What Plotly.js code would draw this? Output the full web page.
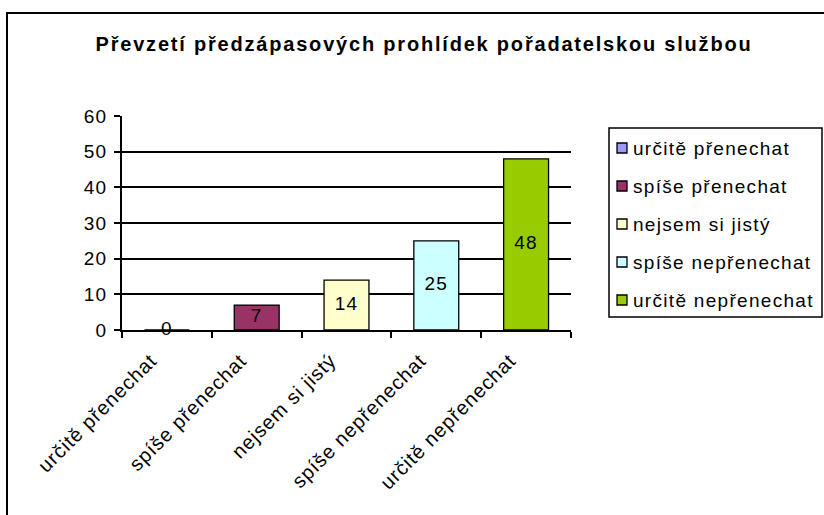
<!DOCTYPE html>
<html>
<head>
<meta charset="utf-8">
<script src="https://cdn.plot.ly/plotly-3.0.1.min.js"></script>
<style>
  html, body { margin: 0; padding: 0; background: #ffffff; }
  #chart { width: 824px; height: 515px; }
  #chart .annotation-text { letter-spacing: 1.3px; }
  #chart .textpoint text { letter-spacing: 1.2px; }
  #chart .ytick text { letter-spacing: 1.2px; }
  #chart .xtick text { letter-spacing: 0.9px; }
  #chart .gtitle { letter-spacing: 1.8px; }
</style>
</head>
<body>
<div id="chart"></div>
<script>
// ---- data ----
const categories = ["určitě přenechat", "spíše přenechat", "nejsem si jistý", "spíše nepřenechat", "určitě nepřenechat"];
const values = [0, 7, 14, 25, 48];
const barColors = ["#9999FF", "#993366", "#FFFFCC", "#CCFFFF", "#99CC00"];
const yTickValues = [0, 10, 20, 30, 40, 50, 60];
const chartTitle = "Převzetí předzápasových prohlídek pořadatelskou službou";

const FONT = "Liberation Sans, Arial, sans-serif";

// one trace per category (vary colours by point)
const traces = categories.map((c, i) => ({
  type: "bar",
  x: [c],
  y: [values[i]],
  name: c,
  width: 0.5,
  marker: { color: barColors[i], line: { color: "#000000", width: 1.3 } },
  hoverinfo: "x+y",
  showlegend: false
}));

// data labels centred inside each bar
traces.push({
  type: "scatter",
  mode: "text",
  x: categories,
  y: values.map(v => v / 2),
  text: values.map(v => String(v)),
  textposition: "middle center",
  textfont: { family: FONT, size: 19, color: "#000000" },
  showlegend: false,
  hoverinfo: "skip",
  cliponaxis: false
});

// plot-area pixel geometry
const L = 122, R = 571, T = 116, B = 330, W = 824, H = 515;
const pw = R - L, ph = B - T;
const px = x => (x - L) / pw;
const py = y => (B - y) / ph;

// legend geometry (pixels)
const LEG = { left: 609, right: 822, top: 128, bottom: 317, firstRow: 148, rowStep: 38, sqL: 617, sqR: 627, textX: 631 };

const shapes = [
  // outer chart border
  {
    type: "rect", xref: "paper", yref: "paper", layer: "below",
    x0: px(7), x1: px(850), y0: py(13), y1: py(560),
    line: { color: "#000000", width: 2 },
    fillcolor: "rgba(0,0,0,0)"
  },
  // legend box
  {
    type: "rect", xref: "paper", yref: "paper",
    x0: px(LEG.left), x1: px(LEG.right), y0: py(LEG.top), y1: py(LEG.bottom),
    line: { color: "#000000", width: 1.5 },
    fillcolor: "#ffffff"
  }
];
const annotations = [];
categories.forEach((c, i) => {
  const yc = LEG.firstRow + i * LEG.rowStep;
  const half = (LEG.sqR - LEG.sqL) / 2;
  shapes.push({
    type: "rect", xref: "paper", yref: "paper",
    x0: px(LEG.sqL), x1: px(LEG.sqR), y0: py(yc - half), y1: py(yc + half),
    line: { color: "#000000", width: 1.3 },
    fillcolor: barColors[i]
  });
  annotations.push({
    xref: "paper", yref: "paper",
    x: px(LEG.textX), y: py(yc),
    xanchor: "left", yanchor: "middle", align: "left",
    text: c, showarrow: false,
    font: { family: FONT, size: 19, color: "#000000" }
  });
});

const layout = {
  width: W,
  height: H,
  margin: { l: L, r: W - R, t: T, b: H - B, autoexpand: false },
  paper_bgcolor: "#ffffff",
  plot_bgcolor: "#ffffff",
  font: { family: FONT, size: 19, color: "#000000" },
  barmode: "overlay",
  showlegend: false,
  title: {
    text: "<b>" + chartTitle + "</b>",
    font: { family: FONT, size: 20, color: "#000000" },
    xref: "container", x: 424 / W, xanchor: "center",
    yref: "container", y: 1 - 44 / H, yanchor: "middle"
  },
  xaxis: {
    type: "category",
    categoryorder: "array",
    categoryarray: categories,
    tickson: "boundaries",
    ticks: "outside",
    ticklen: 6,
    tickwidth: 2,
    tickcolor: "#000000",
    tickangle: -45,
    ticklabelshift: -16,
    ticklabelstandoff: 9,
    tickfont: { family: FONT, size: 20, color: "#000000" },
    showline: true,
    linecolor: "#000000",
    linewidth: 2,
    showgrid: false,
    zeroline: false,
    automargin: false,
    fixedrange: true
  },
  yaxis: {
    range: [0, 60],
    tickvals: yTickValues,
    ticktext: yTickValues.map(String),
    ticks: "outside",
    ticklen: 6,
    tickwidth: 2,
    tickcolor: "#000000",
    ticklabelstandoff: 3,
    tickfont: { family: FONT, size: 19, color: "#000000" },
    showline: true,
    linecolor: "#000000",
    linewidth: 2,
    showgrid: true,
    gridcolor: "#000000",
    gridwidth: 2,
    zeroline: false,
    automargin: false,
    fixedrange: true
  },
  shapes: shapes,
  annotations: annotations
};

Plotly.newPlot("chart", traces, layout, { displayModeBar: false, staticPlot: true });
</script>
</body>
</html>
